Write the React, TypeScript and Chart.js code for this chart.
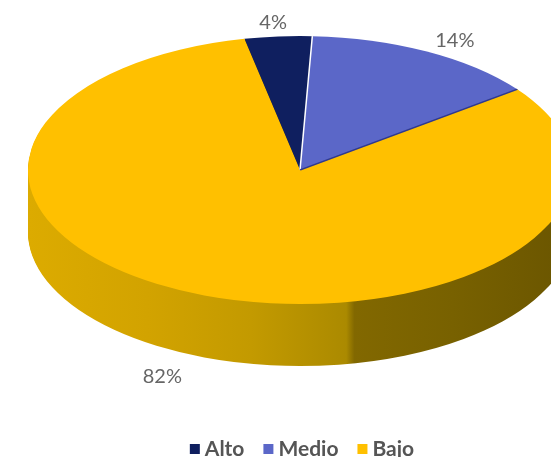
import React, { useEffect, useRef } from "react";
import { Chart, registerables } from "chart.js";

Chart.register(...registerables);

// ---- data ----
const categories = ["Alto", "Medio", "Bajo"];
const values = [4, 14, 82];

// ---- style ----
const topColors = ["#0f1f5f", "#5b67c8", "#ffc000"];
const sideColors = ["#08143f", "#3a449a", "#c99800"];
const CENTER_X = 300;
const CENTER_Y = 170;
const RADIUS = 272;
const TILT = 134 / 272;
const DEPTH = 62;
const ROTATION = -11.8;
const LABEL_OFFSETS = [
  [-5, -14],
  [28, -11],
  [-42, 81],
];
const LEGEND_CENTER_X = 302;
const LEGEND_Y = 449;

const pie3d = {
  id: "pie3d",
  beforeDatasetsDraw(chart: any) {
    const ctx = chart.ctx as CanvasRenderingContext2D;
    const arcs = chart.getDatasetMeta(0).data as any[];
    if (!arcs.length) return;
    const cx = arcs[0].x;
    const cy = arcs[0].y;
    const grad = ctx.createLinearGradient(cx - RADIUS, 0, cx + RADIUS, 0);
    grad.addColorStop(0, "#dcab00");
    grad.addColorStop(0.22, "#d2a300");
    grad.addColorStop(0.41, "#c39a00");
    grad.addColorStop(0.585, "#ab8a00");
    grad.addColorStop(0.6, "#826800");
    grad.addColorStop(0.78, "#786100");
    grad.addColorStop(1, "#6a5500");
    for (let d = DEPTH; d >= 1; d--) {
      ctx.save();
      ctx.translate(CENTER_X, CENTER_Y + d);
      ctx.scale(1, TILT);
      ctx.translate(-cx, -cy);
      arcs.forEach((arc, i) => {
        const ghost = Object.create(arc);
        ghost.options = {
          ...arc.options,
          backgroundColor: i === 2 ? grad : sideColors[i],
          borderWidth: 0,
        };
        arc.draw.call(ghost, ctx);
      });
      ctx.restore();
    }
    ctx.save();
    ctx.translate(CENTER_X, CENTER_Y);
    ctx.scale(1, TILT);
    ctx.translate(-cx, -cy);
  },
  afterDatasetsDraw(chart: any) {
    const arcs = chart.getDatasetMeta(0).data as any[];
    if (!arcs.length) return;
    const ctx = chart.ctx as CanvasRenderingContext2D;
    const seam = (angle: number, color: string, width: number) => {
      ctx.beginPath();
      ctx.moveTo(arcs[1].x, arcs[1].y);
      ctx.lineTo(arcs[1].x + RADIUS * Math.cos(angle), arcs[1].y + RADIUS * Math.sin(angle));
      ctx.strokeStyle = color;
      ctx.lineWidth = width;
      ctx.stroke();
    };
    // light seam between the first two slices, dark wall edge after the second
    seam(arcs[1].startAngle, "#ffffff", 1.5);
    seam(arcs[1].endAngle, "#2f3990", 2.5);
    ctx.restore();
  },
  afterDraw(chart: any) {
    const ctx = chart.ctx as CanvasRenderingContext2D;
    const arcs = chart.getDatasetMeta(0).data as any[];
    const total = values.reduce((a, b) => a + b, 0);
    ctx.save();
    // data labels
    ctx.font = "20px Lato";
    ctx.fillStyle = "#666666";
    ctx.textAlign = "center";
    ctx.textBaseline = "middle";
    arcs.forEach((arc, i) => {
      const mid = (arc.startAngle + arc.endAngle) / 2;
      const ex = CENTER_X + RADIUS * Math.cos(mid);
      const ey = CENTER_Y + RADIUS * TILT * Math.sin(mid);
      const txt = Math.round((values[i] / total) * 100) + "%";
      ctx.fillText(txt, ex + LABEL_OFFSETS[i][0], ey + LABEL_OFFSETS[i][1]);
    });
    // legend
    ctx.font = "bold 21px Lato";
    ctx.textAlign = "left";
    const box = 10;
    const gap = 5;
    const itemGap = 19;
    const widths = categories.map((c) => box + gap + ctx.measureText(c).width);
    const totalW = widths.reduce((a, b) => a + b, 0) + itemGap * (categories.length - 1);
    let x = LEGEND_CENTER_X - totalW / 2;
    categories.forEach((c, i) => {
      ctx.fillStyle = topColors[i];
      ctx.fillRect(x, LEGEND_Y - box / 2, box, box);
      ctx.fillStyle = "#555555";
      ctx.fillText(c, x + box + gap, LEGEND_Y);
      x += widths[i] + itemGap;
    });
    ctx.restore();
  },
};

export default function App() {
  const ref = useRef<HTMLCanvasElement>(null);
  useEffect(() => {
    if (!ref.current) return;
    const chart = new Chart(ref.current, {
      type: "pie",
      data: {
        labels: categories,
        datasets: [
          {
            data: values,
            backgroundColor: topColors,
            borderWidth: 0,
            radius: RADIUS,
            clip: false,
          } as any,
        ],
      },
      options: {
        animation: false,
        responsive: true,
        maintainAspectRatio: false,
        rotation: ROTATION,
        plugins: {
          legend: { display: false },
          tooltip: { enabled: false },
        },
      } as any,
      plugins: [pie3d],
    });
    return () => chart.destroy();
  }, []);
  return (
    <div style={{ position: "absolute", left: 0, top: 0, width: 551, height: 457, background: "#ffffff" }}>
      <canvas ref={ref} />
    </div>
  );
}
